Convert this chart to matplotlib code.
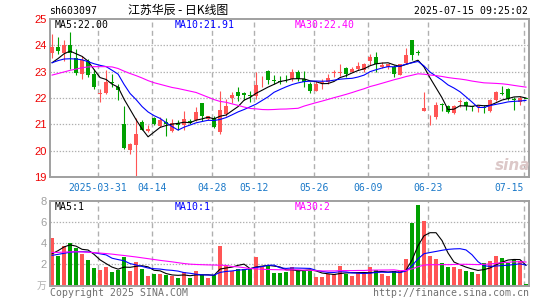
import matplotlib
matplotlib.use('Agg')
import matplotlib.pyplot as plt
import numpy as np
import pandas as pd

plt.rcParams['lines.scale_dashes'] = False

# ---------------- data ----------------
opens = [23.70, 23.94, 23.70, 24.01, 23.51, 22.93, 23.41, 22.91, 22.17, 22.19,
         22.58, 22.40, 21.02, 20.04, 20.20, 21.10, 20.74, 21.25, 20.95, 21.10,
         20.74, 21.05, 20.98, 21.14, 21.17, 21.80, 21.22, 21.25, 20.70, 21.40,
         21.99, 22.24, 22.18, 22.11, 22.09, 22.67, 23.03, 22.69, 22.64, 22.73,
         22.72, 22.99, 22.72, 22.55, 22.28, 22.57, 22.59, 22.95, 22.96, 23.14,
         23.00, 23.12, 23.06, 23.41, 23.56, 23.19, 23.18, 23.18, 22.88, 23.32,
         24.20, 23.74, 21.52, 21.19, 21.27, 21.76, 21.71, 21.42, 21.85, 21.86,
         21.68, 21.66, 21.67, 21.52, 21.94, 22.19, 22.34, 21.97, 21.85, 21.98]
highs = [24.44, 24.31, 24.20, 24.51, 23.85, 23.60, 23.50, 23.09, 22.34, 23.06,
         22.90, 22.53, 21.71, 20.30, 21.25, 21.18, 20.98, 21.27, 21.27, 21.25,
         21.22, 21.17, 21.52, 21.20, 21.65, 21.80, 21.33, 21.33, 22.28, 21.96,
         22.21, 22.40, 22.24, 22.28, 22.99, 22.82, 23.07, 22.88, 22.84, 22.88,
         23.12, 23.06, 23.03, 22.59, 22.65, 22.74, 22.93, 23.07, 23.31, 23.16,
         23.16, 23.37, 23.33, 23.66, 23.75, 23.35, 23.30, 23.25, 23.30, 23.91,
         24.22, 23.82, 22.21, 21.36, 21.84, 21.80, 21.75, 21.73, 21.96, 21.87,
         21.71, 21.71, 21.75, 21.96, 22.28, 22.47, 22.38, 22.04, 22.09, 21.98]
lows = [23.52, 23.66, 23.42, 23.10, 22.88, 22.74, 22.80, 22.36, 21.86, 22.15,
        22.40, 21.94, 20.06, 19.88, 19.04, 20.78, 20.70, 20.97, 20.90, 20.57,
        20.70, 20.77, 20.77, 21.00, 21.14, 21.14, 21.18, 20.87, 20.64, 21.33,
        21.80, 21.90, 21.93, 21.84, 21.96, 22.40, 22.55, 22.53, 22.53, 22.59,
        22.65, 22.65, 22.40, 22.18, 22.25, 22.34, 22.53, 22.80, 22.82, 22.78,
        22.97, 23.06, 22.97, 23.26, 22.97, 23.15, 23.09, 22.80, 22.86, 23.28,
        23.45, 23.62, 21.49, 20.99, 21.21, 21.52, 21.42, 21.40, 21.67, 21.55,
        21.52, 21.48, 21.42, 21.48, 21.87, 22.11, 21.94, 21.53, 21.75, 21.96]
closes = [23.95, 23.79, 24.01, 23.70, 22.95, 23.45, 22.88, 22.40, 22.20, 22.59,
          22.56, 22.32, 20.10, 20.26, 20.64, 20.80, 20.83, 21.00, 21.15, 21.00,
          21.06, 20.98, 21.21, 21.06, 21.48, 21.30, 21.30, 20.90, 21.56, 21.71,
          22.11, 22.09, 22.11, 22.08, 22.50, 22.69, 22.69, 22.63, 22.62, 22.71,
          22.99, 22.72, 22.59, 22.25, 22.55, 22.61, 22.75, 22.98, 22.99, 22.91,
          23.12, 23.22, 23.31, 23.56, 23.28, 23.26, 23.28, 22.91, 23.28, 23.64,
          23.63, 23.72, 21.62, 21.22, 21.75, 21.74, 21.46, 21.71, 21.87, 21.71,
          21.66, 21.68, 21.61, 21.94, 22.21, 22.17, 21.96, 21.92, 21.99, 21.96]
volumes = [4.48, 2.75, 3.78, 4.06, 3.55, 2.98, 2.43, 1.70, 1.47, 1.79,
           1.31, 1.47, 2.66, 1.38, 2.27, 1.57, 0.93, 1.06, 1.12, 0.99,
           0.90, 0.74, 1.25, 0.74, 1.38, 0.96, 0.74, 0.99, 3.71, 1.89,
           1.38, 1.57, 1.57, 1.57, 2.66, 1.79, 1.95, 1.22, 1.15, 1.31,
           1.79, 1.47, 1.42, 1.42, 0.80, 0.80, 1.10, 1.10, 1.86, 1.09,
           0.90, 1.15, 1.15, 1.73, 1.50, 1.09, 0.90, 1.37, 1.37, 2.53,
           5.90, 7.65, 6.09, 2.82, 2.53, 2.17, 1.79, 1.79, 1.57, 1.38,
           1.31, 1.09, 2.17, 2.34, 2.82, 2.60, 2.12, 2.44, 2.28, 0.13]

# moving-average values at the left edge (window extends before the visible data)
ma5_head = [23.34, 23.50, 23.68, 23.78]
ma10_head = [23.34, 23.42, 23.48, 23.49, 23.48, 23.45, 23.38, 23.30, 23.24]
ma30_head = [22.87, 22.93, 22.99, 23.05, 23.10, 23.15, 23.18, 23.19, 23.19, 23.19,
             23.18, 23.12, 23.02, 22.93, 22.85, 22.76, 22.66, 22.58, 22.52, 22.46,
             22.40, 22.36, 22.31, 22.26, 22.21, 22.12, 22.03, 21.94, 21.87]
vma5_head = [3.00, 3.30, 3.65, 3.85]
vma10_head = [2.85, 2.95, 3.05, 3.15, 3.20, 3.20, 3.18, 3.10, 3.00]
vma30_head = [3.12, 3.14, 3.16, 3.18, 3.19, 3.18, 3.15, 3.11, 3.07, 3.02,
              2.97, 2.90, 2.84, 2.77, 2.70, 2.62, 2.54, 2.46, 2.38, 2.31,
              2.24, 2.16, 2.08, 2.02, 1.99, 1.97, 1.95, 1.94, 1.92]

tick_idx = [8, 17, 27, 34, 44, 53, 63, 79]
tick_labels = ['2025-03-31', '04-14', '04-28', '05-12', '05-26', '06-09', '06-23', '07-15']
price_ticks = [19, 20, 21, 22, 23, 24, 25]
vol_ticks = [2, 4, 6, 8]

title = '江苏华辰 - 日K线图'
code = 'sh603097'
stamp = '2025-07-15 09:25:02'
ma_labels = ['MA5:22.00', 'MA10:21.91', 'MA30:22.40']
vma_labels = ['MA5:1', 'MA10:1', 'MA30:2']


def moving(values, n, head):
    s = pd.Series(values).rolling(n).mean().to_numpy()
    s[:n - 1] = head
    return s


# ---------------- styling ----------------
W, H = 545, 300
RED = '#ff5555'
GREEN = '#00a000'
GRID = '#b0b0b0'
FRAME = '#a0a0a0'
MA_COLORS = ['#000000', '#0000ff', '#ff00ff']
MONO = 'DejaVu Sans Mono'

fig = plt.figure(figsize=(W / 100, H / 100), dpi=100)
fig.patch.set_facecolor('white')


def rect(l, t, r, b):
    return [l / W, 1 - b / H, (r - l) / W, (b - t) / H]


def ftext(x, y, s, **kw):
    fig.text(x / W, 1 - y / H, s, **kw)


ax = fig.add_axes(rect(50, 19, 529, 177))
axv = fig.add_axes(rect(50, 201, 529, 285.5))

n = len(closes)
x = np.arange(n)
o = np.array(opens); c = np.array(closes)
h = np.array(highs); l = np.array(lows)
v = np.array(volumes)
up = c >= o
colors = np.where(up, RED, GREEN)

xlim = (-0.35, n - 0.5)
grid_x = np.array(tick_idx) - 0.33

for a in (ax, axv):
    a.set_xlim(*xlim)
    for gx in grid_x:
        a.axvline(gx, color=GRID, lw=1.0, linestyle=(0, (3.6, 2.4)), zorder=0)
    for sp in a.spines.values():
        sp.set_color(FRAME)
        sp.set_linewidth(1.4)
    a.tick_params(length=0)

# price panel
ax.set_ylim(19, 25)
for gy in price_ticks[1:-1]:
    ax.axhline(gy, color=GRID, lw=0.9, linestyle=(0, (1.0, 1.2)), zorder=0)
ax.vlines(x, l, h, colors=colors, lw=0.8, zorder=2)
body = np.maximum(np.abs(c - o), 0.03)
ax.bar(x, body, bottom=np.minimum(o, c), width=0.8, color=colors, lw=0, zorder=3)

for vals, n_, head, col in ((closes, 5, ma5_head, MA_COLORS[0]),
                            (closes, 10, ma10_head, MA_COLORS[1]),
                            (closes, 30, ma30_head, MA_COLORS[2])):
    ax.plot(x, moving(vals, n_, head), color=col, lw=0.8, zorder=4)

ax.set_yticks(price_ticks)
ax.set_yticklabels([str(t) for t in price_ticks], color='#ee0000',
                   family='Liberation Sans', fontsize=8)
ax.tick_params(axis='y', pad=2.5)
ax.set_xticks(grid_x)
ax.set_xticklabels(tick_labels, color='#1a78c8', family=MONO, fontsize=7)
ax.tick_params(axis='x', pad=4.5)
ax.get_xticklabels()[-1].set_ha('right')

# volume panel
axv.set_ylim(0, 8)
for gy in vol_ticks[:-1]:
    axv.axhline(gy, color=GRID, lw=0.9, linestyle=(0, (1.0, 1.2)), zorder=0)
axv.bar(x, v, width=0.8, color=colors, lw=0, zorder=2)
for n_, head, col in ((5, vma5_head, MA_COLORS[0]),
                      (10, vma10_head, MA_COLORS[1]),
                      (30, vma30_head, MA_COLORS[2])):
    axv.plot(x, moving(volumes, n_, head), color=col, lw=0.8, zorder=4)
axv.set_xticks([])
axv.set_yticks(vol_ticks)
axv.set_yticklabels([str(t) for t in vol_ticks], color='#a0a0a0',
                    family='Liberation Sans', fontsize=8)
axv.tick_params(axis='y', pad=2.5)

# texts
ftext(49.5, 10.5, code, ha='left', va='center', family=MONO, fontsize=7.1)
ftext(178, 10.2, title, ha='center', va='center',
      family=['Noto Sans CJK SC', 'DejaVu Sans'], fontsize=8.6)
ftext(528.5, 10.8, stamp, ha='right', va='center', family=MONO, fontsize=7.1)
for xx, s, col in zip((54.5, 174.8, 294.7), ma_labels, MA_COLORS):
    ftext(xx, 24.8, s, ha='left', va='center', family=MONO, fontsize=7.1, color=col)
for xx, s, col in zip((54.5, 174.8, 294.7), vma_labels, MA_COLORS):
    ftext(xx, 206.5, s, ha='left', va='center', family=MONO, fontsize=7.1, color=col)
ftext(46, 286, '万', ha='right', va='center',
      family=['Noto Sans CJK SC', 'DejaVu Sans'], fontsize=7, color='#b0b0b0')
ftext(50, 292.5, 'Copyright 2025 SINA.COM', ha='left', va='center',
      family=MONO, fontsize=7.1, color='#707070')
ftext(529, 292.5, 'http://finance.sina.com.cn', ha='right', va='center',
      family=MONO, fontsize=7.1, color='#707070')
ftext(513, 165, 'sina', ha='center', va='center', fontsize=11, style='italic',
      weight='bold', color='#dcc8c8')

fig.savefig('out.png', dpi=100, facecolor='white')
